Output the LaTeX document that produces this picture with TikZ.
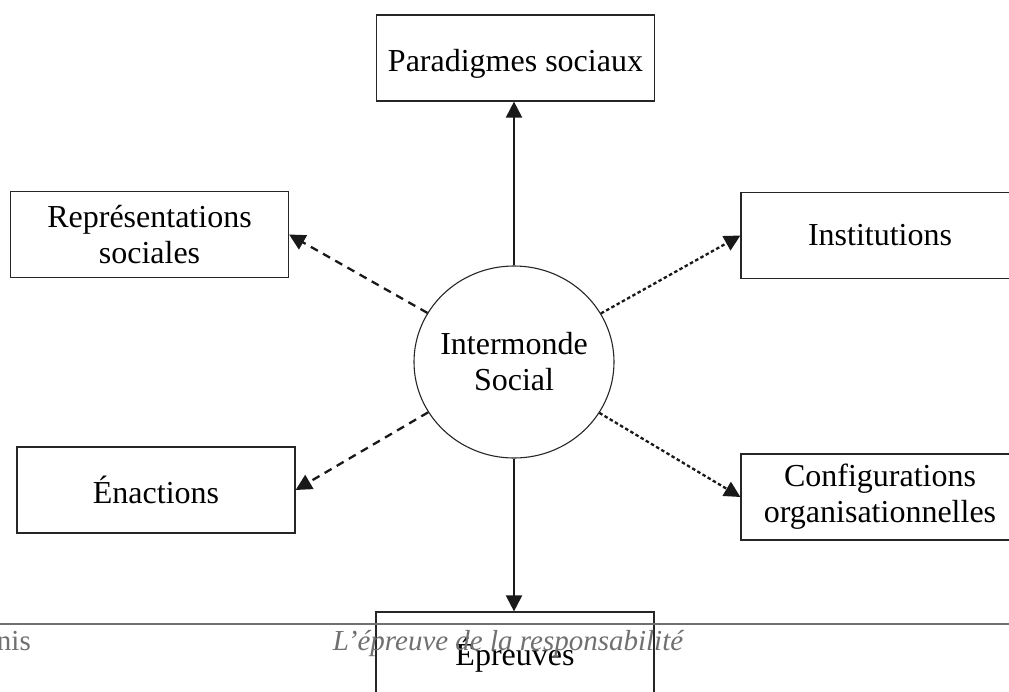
\documentclass[tikz,border=0pt]{standalone}
\usepackage{fontspec}
\setmainfont{Liberation Serif}
\usetikzlibrary{arrows.meta,shapes.geometric}
\definecolor{footgray}{HTML}{707070}
\tikzset{
  box/.style={draw=black!85, line width=1.2pt, minimum width=278pt, minimum height=86pt,
    inner sep=0pt, align=center, font=\fontsize{32}{36}\selectfont},
  hub/.style={draw=black!85, line width=1.1pt, ellipse, minimum width=200pt, minimum height=192pt,
    inner xsep=-4pt, inner ysep=0pt, align=center, font=\fontsize{32}{36}\selectfont},
  tip/.style={-{Triangle[length=16pt,width=16pt]}},
  solidarrow/.style={tip, line width=2pt, black!90},
  dasharrow/.style={tip, line width=2.3pt, black!90, dash pattern=on 8pt off 6pt},
  dotarrow/.style={tip, line width=2.3pt, black!90, dash pattern=on 3.5pt off 2.5pt},
  foot/.style={text=footgray, font=\fontsize{29}{32}\selectfont, inner sep=0pt}
}
\begin{document}
\begin{tikzpicture}[x=1pt,y=-1pt]
\useasboundingbox (0,0) rectangle (1009,691);
\node[hub] (c) at (514,362) {Intermonde\\Social};
\node[box, text height=30pt, text depth=4pt] (par) at (515.5,58) {Paradigmes sociaux};
\node[box] (rep) at (149.5,234.5) {Représentations\\sociales};
\node[box] (ins) at (880,235.5) {Institutions};
\node[box] (ena) at (156,490) {Énactions};
\node[box] (con) at (880,497) {Configurations\\organisationnelles};
\node[box] (epr) at (515,655) {Épreuves};
\draw[solidarrow] (c.north) -- (c.north |- par.south);
\draw[solidarrow] (c.south) -- (c.south |- epr.north);
\draw[dasharrow] (c) -- (rep.east);
\draw[dotarrow] (c) -- (ins.west);
\draw[dasharrow] (c) -- (ena.east);
\draw[dotarrow] (c) -- (con.west);
\coordinate (fl) at (0,624);
\coordinate (fr) at (1009,624);
\draw[footgray, line width=1.4pt] (fl) -- (fr);
\node[foot, anchor=base east] (fn) at (31,650) {nis};
\node[foot, anchor=base, font=\fontsize{29}{32}\selectfont\itshape] (ft) at (508,650) {L’épreuve de la responsabilité};
\end{tikzpicture}
\end{document}
